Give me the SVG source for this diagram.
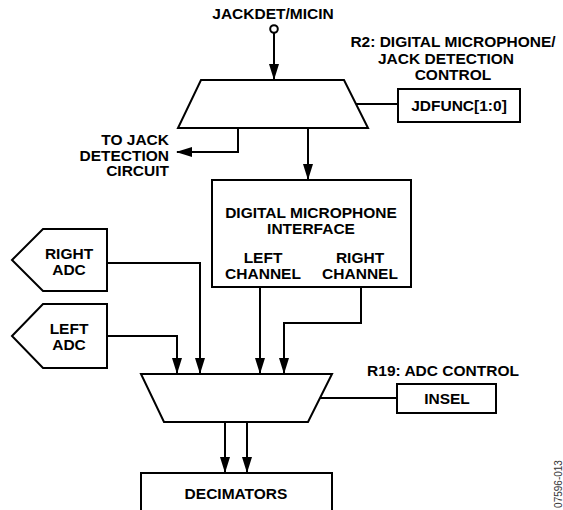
<svg xmlns="http://www.w3.org/2000/svg" width="563" height="510" viewBox="0 0 563 510">
<style>
  .s{fill:#fff;stroke:#000;stroke-width:2}
  .c{fill:none;stroke:#000;stroke-width:2}
  text{font-family:"Liberation Sans",Arial,sans-serif;font-weight:bold;font-size:15.5px;fill:#000}
  .m{text-anchor:middle}
  .e{text-anchor:end}
  .id{font-weight:normal;font-size:10px;fill:#333}
</style>
<defs>
  <marker id="ah" viewBox="0 0 16 10" refX="15" refY="5" markerWidth="16" markerHeight="10" markerUnits="userSpaceOnUse" orient="auto">
    <path d="M0,0 L16,5 L0,10 z" fill="#000"/>
  </marker>
</defs>
<g id="connectors">
  <path class="c" d="M274,33 V79" marker-end="url(#ah)"/>
  <path class="c" d="M238,128 V152 H177" marker-end="url(#ah)"/>
  <path class="c" d="M308,128 V179" marker-end="url(#ah)"/>
  <path class="c" d="M356,104 H398"/>
  <path class="c" d="M107,263 H200 V373" marker-end="url(#ah)"/>
  <path class="c" d="M107,336 H177 V373" marker-end="url(#ah)"/>
  <path class="c" d="M260,287 V373" marker-end="url(#ah)"/>
  <path class="c" d="M361,287 V323 H284 V373" marker-end="url(#ah)"/>
  <path class="c" d="M320,398 H397"/>
  <path class="c" d="M225,422 V472" marker-end="url(#ah)"/>
  <path class="c" d="M247,422 V472" marker-end="url(#ah)"/>
</g>
<g id="jackdet">
  <circle class="s" cx="274" cy="29" r="3.8"/>
  <text class="m" x="273" y="19">JACKDET/MICIN</text>
</g>
<g id="mux1">
  <polygon class="s" points="201,80 344,80 368,128 178,128"/>
</g>
<g id="r2-label">
  <text class="m" x="453" y="47">R2: DIGITAL MICROPHONE/</text>
  <text class="m" x="446" y="63.5">JACK DETECTION</text>
  <text class="m" x="453" y="80">CONTROL</text>
</g>
<g id="jdfunc">
  <rect class="s" x="398" y="89" width="122" height="33"/>
  <text class="m" x="459" y="111">JDFUNC[1:0]</text>
</g>
<g id="jack-detect-label">
  <text class="e" x="169" y="145">TO JACK</text>
  <text class="e" x="169" y="160.5">DETECTION</text>
  <text class="e" x="169" y="176">CIRCUIT</text>
</g>
<g id="dmi">
  <rect class="s" x="212" y="180" width="199" height="107"/>
  <text class="m" x="311" y="218">DIGITAL MICROPHONE</text>
  <text class="m" x="311" y="233.5">INTERFACE</text>
  <text class="m" x="263" y="263">LEFT</text>
  <text class="m" x="263" y="279">CHANNEL</text>
  <text class="m" x="360" y="263">RIGHT</text>
  <text class="m" x="360" y="279">CHANNEL</text>
</g>
<g id="right-adc">
  <polygon class="s" points="12,260 43,229 107,229 107,291 43,291"/>
  <text class="m" x="69" y="259">RIGHT</text>
  <text class="m" x="69" y="275">ADC</text>
</g>
<g id="left-adc">
  <polygon class="s" points="12,336 43,304 107,304 107,368 43,368"/>
  <text class="m" x="69" y="334">LEFT</text>
  <text class="m" x="69" y="350">ADC</text>
</g>
<g id="mux2">
  <polygon class="s" points="141,374 332,374 308,422 164,422"/>
</g>
<g id="insel">
  <text class="m" x="443" y="376">R19: ADC CONTROL</text>
  <rect class="s" x="397" y="384" width="99" height="29"/>
  <text class="m" x="447" y="404">INSEL</text>
</g>
<g id="decimators">
  <rect class="s" x="141" y="473" width="191" height="50"/>
  <text class="m" x="236" y="499">DECIMATORS</text>
</g>
<text class="id m" transform="translate(561.5,484) rotate(-90)">07596-013</text>
</svg>
